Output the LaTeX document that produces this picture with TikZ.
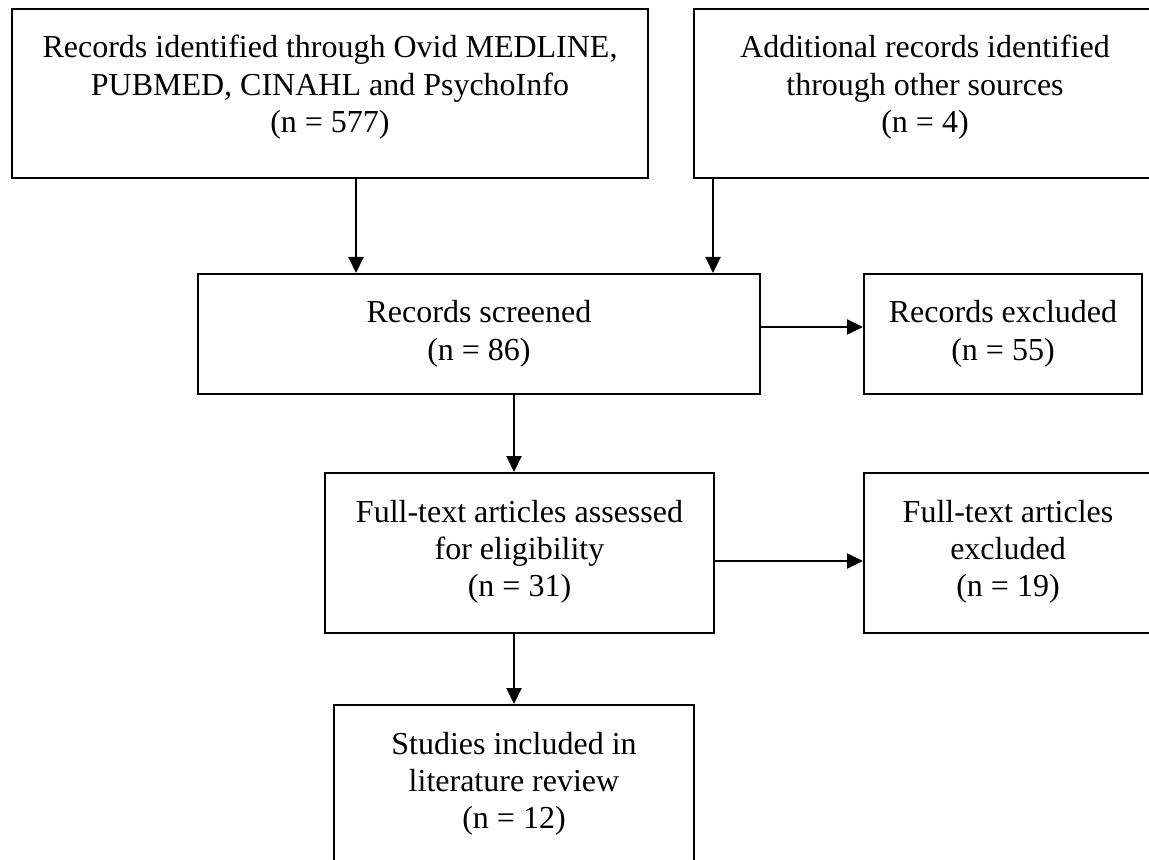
\documentclass[tikz,border=0pt]{standalone}
\usepackage{fontspec}
\setmainfont{Liberation Serif}
\usetikzlibrary{arrows.meta}
\newcommand{\prismatext}[3]{\parbox[t][#2][t]{#1}{\centering\rule{0pt}{24.5pt}#3}}

\begin{document}
\begin{tikzpicture}[x=0.5pt,y=-0.5pt,
    box/.style={draw,line width=1pt,inner sep=0pt,anchor=north west},
    arr/.style={line width=1pt,-{Triangle[length=8pt,width=7.5pt]}},
    every node/.style={font=\fontsize{16}{18.6}\selectfont}]

        \clip (0,0) rectangle (1149,860);

        \node[box] (ident) at (11,8) {\prismatext{318pt}{84.5pt}{Records identified through Ovid MEDLINE,\\PUBMED, CINAHL and PsychoInfo\\(n = 577)}};
        \node[box] (other) at (693,8) {\prismatext{231pt}{84.5pt}{Additional records identified\\through other sources\\(n = 4)}};
        \node[box] (scr) at (197,273) {\prismatext{281pt}{60pt}{Records screened\\(n = 86)}};
        \node[box] (excl) at (863,273) {\prismatext{139pt}{60pt}{Records excluded\\(n = 55)}};
        \node[box] (full) at (324,472) {\prismatext{194.5pt}{80pt}{Full-text articles assessed\\for eligibility\\(n = 31)}};
        \node[box] (fexcl) at (863,472) {\prismatext{144pt}{80pt}{Full-text articles\\excluded\\(n = 19)}};
        \node[box] (incl) at (333,704) {\prismatext{180pt}{85pt}{Studies included in\\literature review\\(n = 12)}};

        \draw[arr] ([xshift=13pt]ident.south) -- ([xshift=13pt]ident.south |- scr.north);
        \draw[arr] ([xshift=10pt]other.south west) -- ([xshift=10pt]other.south west |- scr.north);
        \draw[arr] ([yshift=3.5pt]scr.east) -- ([yshift=3.5pt]scr.east -| excl.west);
        \draw[arr] (scr.south -| incl.north) -- (full.north -| incl.north);
        \draw[arr] ([yshift=-4pt]full.east) -- ([yshift=-4pt]full.east -| fexcl.west);
        \draw[arr] (full.south -| incl.north) -- (incl.north);

      \end{tikzpicture}
\end{document}
